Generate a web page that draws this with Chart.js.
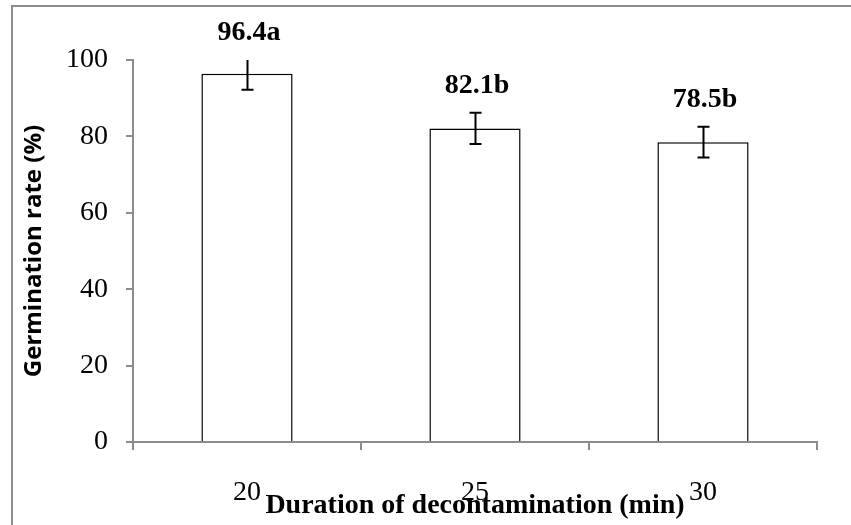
<!DOCTYPE html>
<html>
<head>
<meta charset="utf-8">
<script src="https://cdn.jsdelivr.net/npm/chart.js@4"></script>
<style>
html,body{margin:0;padding:0;background:#fff;}
#wrap{width:851px;height:525px;position:relative;}
</style>
</head>
<body>
<div id="wrap"><canvas id="c" width="851" height="525"></canvas></div>
<script>
const categories = ['20', '25', '30'];
const germinationRate = [96.4, 82.1, 78.5];
const errorValues = [4.2, 4.1, 4.0];
const significance = ['a', 'b', 'b'];
const yTicks = [0, 20, 40, 60, 80, 100];

const AXIS_GRAY = '#8c8c8c';

const framePlugin = {
  id: 'frame',
  beforeDraw(chart) {
    const ctx = chart.ctx;
    ctx.save();
    ctx.fillStyle = '#fff';
    ctx.fillRect(0, 0, chart.width, chart.height);
    ctx.strokeStyle = AXIS_GRAY;
    ctx.lineWidth = 2;
    ctx.beginPath();
    ctx.moveTo(12, 525);
    ctx.lineTo(12, 6);
    ctx.lineTo(851, 6);
    ctx.stroke();
    ctx.restore();
  }
};

const errorBarPlugin = {
  id: 'errorBars',
  afterDatasetsDraw(chart) {
    const ctx = chart.ctx;
    const y = chart.scales.y;
    const meta = chart.getDatasetMeta(0);
    const area = chart.chartArea;
    ctx.save();
    ctx.strokeStyle = '#000';
    ctx.lineWidth = 2;
    meta.data.forEach((bar, i) => {
      const v = germinationRate[i];
      const e = errorValues[i];
      const hi = v + e, lo = v - e;
      const yHi = Math.max(y.getPixelForValue(hi), area.top);
      const yLo = y.getPixelForValue(lo);
      const x = Math.round(bar.x) + 0.5;
      ctx.beginPath();
      ctx.moveTo(x, yHi);
      ctx.lineTo(x, yLo);
      ctx.moveTo(x - 6, yLo);
      ctx.lineTo(x + 6, yLo);
      if (hi <= y.max) {
        ctx.moveTo(x - 6, y.getPixelForValue(hi));
        ctx.lineTo(x + 6, y.getPixelForValue(hi));
      }
      ctx.stroke();
      // label
      ctx.fillStyle = '#000';
      ctx.font = 'bold 28px "Liberation Serif", "Times New Roman", serif';
      ctx.textAlign = 'center';
      ctx.textBaseline = 'middle';
      ctx.fillText(v.toFixed(1) + significance[i], bar.x + 2, yHi - 27);
    });
    ctx.restore();
  }
};

new Chart(document.getElementById('c'), {
  type: 'bar',
  data: {
    labels: categories,
    datasets: [{
      data: germinationRate,
      backgroundColor: '#ffffff',
      borderColor: '#000000',
      borderWidth: 1.5,
      barPercentage: 0.4,
      categoryPercentage: 1.0
    }]
  },
  options: {
    responsive: false,
    animation: false,
    devicePixelRatio: 1,
    layout: { padding: { left: 0, right: 34, top: 60, bottom: 0 } },
    plugins: { legend: { display: false }, tooltip: { enabled: false } },
    scales: {
      x: {
        offset: true,
        grid: { offset: true, drawOnChartArea: false, tickLength: 8, color: AXIS_GRAY, lineWidth: 2 },
        border: { color: AXIS_GRAY, width: 2 },
        ticks: {
          color: '#000',
          padding: 26,
          font: { family: '"Liberation Serif", "Times New Roman", serif', size: 28 }
        },
        title: {
          display: true,
          text: 'Duration of decontamination (min)',
          color: '#000',
          font: { family: '"Liberation Serif", "Times New Roman", serif', size: 28, weight: 'bold' },
          padding: { top: 0, bottom: 2 }
        },
        afterFit(scale) { scale.height = 83; }
      },
      y: {
        min: 0, max: 100,
        afterBuildTicks(scale) { scale.ticks = yTicks.map(v => ({ value: v })); },
        grid: { drawOnChartArea: false, tickLength: 7, color: AXIS_GRAY, lineWidth: 2 },
        border: { color: AXIS_GRAY, width: 2 },
        ticks: {
          color: '#000',
          padding: 18,
          font: { family: '"Liberation Serif", "Times New Roman", serif', size: 28 }
        },
        title: {
          display: true,
          text: 'Germination rate (%)',
          color: '#000',
          font: { family: '"Open Sans", sans-serif', size: 24, weight: 'bold' },
          padding: { top: 20, bottom: 0 }
        },
        afterFit(scale) { scale.width = 133; }
      }
    }
  },
  plugins: [framePlugin, errorBarPlugin]
});
</script>
</body>
</html>
